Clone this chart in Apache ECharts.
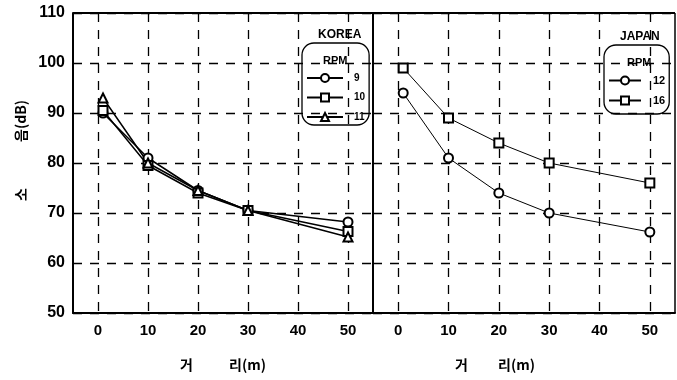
<!DOCTYPE html>
<html><head><meta charset="utf-8">
<script src="https://cdn.jsdelivr.net/npm/echarts@6/dist/echarts.min.js"></script>
<style>html,body{margin:0;padding:0;background:#fff}#c{width:677px;height:380px}</style>
</head><body><div id="c"></div>
<script>
const distances = [1, 10, 20, 30, 50];
const xTicks = [0, 10, 20, 30, 40, 50];
const yTicks = [50, 60, 70, 80, 90, 100, 110];
const koreaNames = ['9', '10', '11'];
const korea9 = [90, 81, 74.5, 70.5, 68.2];
const korea10 = [90.5, 79.5, 74, 70.5, 66.3];
const korea11 = [93, 80, 74.5, 70.5, 65.2];
const japanNames = ['12', '16'];
const japan12 = [94, 81, 74, 70, 66.2];
const japan16 = [99, 89, 84, 80, 76];
const xTitleA = '거';
const xTitleB = '리(m)';
const yTitleA = '소';
const yTitleB = '음(dB)';

const pair = v => distances.map((d, i) => [d, v[i]]);
const F = '"Liberation Sans", Arial, sans-serif';
const K = '"Noto Sans CJK KR", sans-serif';
const dash = { type: [9, 8], color: '#000', width: 1.3 };

function xAxis(gi) {
  return {
    type: 'value', gridIndex: gi, min: -5, max: 55,
    axisLine: { show: true, onZero: false, lineStyle: { color: '#000', width: 2 } },
    axisTick: { show: false, customValues: xTicks },
    axisLabel: { customValues: xTicks, color: '#000', fontFamily: F, fontWeight: 'bold', fontSize: 15, margin: 10 },
    splitLine: { show: true, lineStyle: dash }
  };
}
function yAxis(gi, show) {
  return {
    type: 'value', gridIndex: gi, min: 50, max: 110, interval: 10,
    axisLine: { show: true, onZero: false, lineStyle: { color: '#000', width: 2 } },
    axisTick: { show: false },
    axisLabel: { show: show, color: '#000', fontFamily: F, fontWeight: 'bold', fontSize: 16, margin: 8,
      formatter: v => yTicks.includes(v) ? String(v) : '' },
    splitLine: { show: true, lineStyle: dash }
  };
}
function ser(name, data, sym, xi, lw) {
  return {
    type: 'line', name: name, data: pair(data), xAxisIndex: xi, yAxisIndex: xi,
    symbol: sym, symbolSize: 9, showSymbol: true,
    lineStyle: { color: '#000', width: lw }, itemStyle: { color: '#000', borderColor: '#222', borderWidth: 0.8 },
    animation: false
  };
}
const T = (text, left, top, fs) => ({ text, left, top, textStyle: { fontFamily: F, fontWeight: 'bold', fontSize: fs, color: '#000' } });
const kt = (text, x, y, rot) => ({ type: 'text', x, y, rotation: rot || 0,
  style: { text, fill: '#000', font: 'bold 14px "Noto Sans CJK KR", sans-serif', align: 'left', verticalAlign: 'middle' } });

const chart = echarts.init(document.getElementById('c'), null, { renderer: 'canvas' });
chart.setOption({
  backgroundColor: '#fff',
  animation: false,
  grid: [
    { left: 73, top: 13, width: 300, height: 300, show: false },
    { left: 373, top: 13, width: 302, height: 300, show: false }
  ],
  xAxis: [xAxis(0), xAxis(1)],
  yAxis: [yAxis(0, true), yAxis(1, false)],
  title: [
    T('KOREA', 313, 24, 12), T('RPM', 318, 50, 11),
    T('JAPAN', 615, 26, 12), T('RPM', 622, 52, 11)
  ],
  legend: [
    { data: koreaNames, orient: 'vertical', left: 302, top: 43, itemWidth: 36, itemHeight: 10, itemGap: 9.5,
      padding: [30, 4, 3, 4], borderColor: '#000', borderWidth: 1.3, borderRadius: 12,
      textStyle: { fontFamily: F, fontWeight: 'bold', fontSize: 10, color: '#000', padding: [0, 0, 0, 6] } },
    { data: japanNames, orient: 'vertical', left: 604, top: 45, itemWidth: 32, itemHeight: 10, itemGap: 9,
      padding: [30, 4, 8, 4], borderColor: '#000', borderWidth: 1.3, borderRadius: 12,
      textStyle: { fontFamily: F, fontWeight: 'bold', fontSize: 11, color: '#000', padding: [0, 0, 0, 7] } }
  ],
  series: [
    ser(koreaNames[0], korea9, 'emptyCircle', 0, 1.5),
    ser(koreaNames[1], korea10, 'emptyRect', 0, 1.5),
    ser(koreaNames[2], korea11, 'emptyTriangle', 0, 1.5),
    ser(japanNames[0], japan12, 'emptyCircle', 1, 1),
    ser(japanNames[1], japan16, 'emptyRect', 1, 1)
  ],
  graphic: [
    { type: 'line', shape: { x1: 73, y1: 13, x2: 675, y2: 13 }, style: { stroke: '#000', lineWidth: 2 } },
    { type: 'line', shape: { x1: 675, y1: 13, x2: 675, y2: 313 }, style: { stroke: '#000', lineWidth: 1.5 } },
    kt(xTitleA, 180, 365), kt(xTitleB, 229, 365),
    kt(xTitleA, 455, 365), kt(xTitleB, 498, 365),
    kt(yTitleA, 21, 201, Math.PI / 2), kt(yTitleB, 21, 142, Math.PI / 2)
  ]
});
</script></body></html>
